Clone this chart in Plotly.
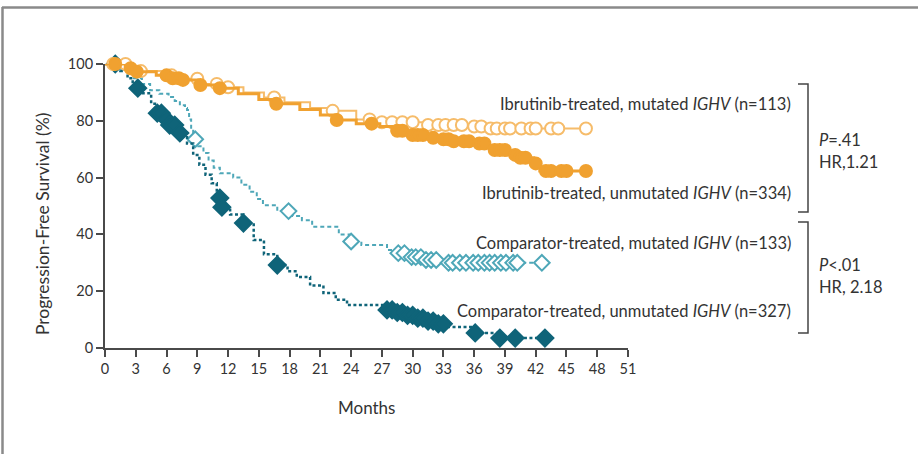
import plotly.graph_objects as go

# ---------------- data ----------------
X_TICKS = list(range(0, 52, 3))
Y_TICKS = [0, 20, 40, 60, 80, 100]

# Ibrutinib-treated, mutated IGHV (n=113)
IBR_MUT_T = [0, 2.2, 3.2, 5.5, 7.8, 9.5, 11.5, 13.5, 15.5, 17.5, 20, 22, 24.5, 27, 31, 35, 37.5, 47]
IBR_MUT_S = [100, 98.5, 97.5, 96, 94.8, 93, 91.8, 90, 88.2, 86.5, 84.5, 83.5, 80.5, 79.5, 78.5, 78, 77.3, 77.3]
IBR_MUT_CENS = [0.8, 2, 3.5, 6.5, 9, 10.9, 12, 16.5, 22.2, 25.8, 27, 28, 29, 30, 31.5,
                32.5, 33.2, 34, 34.8, 36, 36.7, 37.6, 38.2, 39, 39.5, 40.6, 41.5, 42,
                43.5, 44.2, 46.9]

# Ibrutinib-treated, unmutated IGHV (n=334)
IBR_UN_T = [0, 2, 3, 5, 6.6, 7.6, 9, 11, 13, 15, 16.7, 19, 21, 22.6, 24.5, 26.8, 28,
            29.8, 31.5, 32.7, 34, 36, 37.3, 37.9, 39.2, 40.2, 41.8, 42.4, 47]
IBR_UN_S = [100, 98.5, 97.3, 96, 95, 94.4, 92.6, 91.5, 89.5, 87.5, 86, 84, 82, 80.3,
            79, 78, 76.5, 75, 74, 73.5, 72.8, 72, 70.5, 69.7, 68, 67, 65, 62.3, 62.3]
IBR_UN_CENS = [1, 2.5, 3.1, 6, 6.6, 7.2, 7.6, 9.3, 11.2, 16.7, 22.6, 26, 28.5, 29, 30,
               30.5, 31, 32, 33, 33.5, 34, 35, 35.5, 36.5, 37, 38, 38.5, 39, 40, 40.5,
               41, 42, 43, 43.5, 44.5, 45, 46.9]

# Comparator-treated, mutated IGHV (n=133)
CMP_MUT_T = [0, 1.5, 2.8, 3.6, 4.4, 5.3, 6.2, 6.8, 7.3, 7.8, 8.0, 8.2, 8.4, 8.6, 9.1,
             9.6, 10.1, 10.6, 11.2, 12.5, 13.3, 14.1, 14.8, 15.4, 16.8, 18.3, 19.2,
             20.2, 22.8, 23.8, 25, 27.5, 28.6, 29.8, 31, 33.4, 42.6]
CMP_MUT_S = [100, 98, 95, 93, 90.8, 89.5, 88.4, 87, 85.5, 84.5, 83.8, 80.5, 77, 73.5,
             71, 68.7, 66, 63.5, 61.5, 60, 57.5, 55, 52.5, 50.3, 48.2, 46.5, 45, 42.7,
             40, 37.5, 36.3, 34.5, 33.4, 32, 31, 30, 30]
CMP_MUT_CENS = [8.8, 17.9, 24, 28.6, 29.2, 29.9, 30.3, 30.8, 31.3, 31.8, 32.3, 33.5,
                33.9, 34.6, 35.2, 35.9, 36.4, 37, 37.5, 38, 38.6, 39.1, 39.8, 40.2, 42.6]

# Comparator-treated, unmutated IGHV (n=327)
CMP_UN_T = [0, 1.5, 2.2, 2.7, 3.2, 3.7, 4.5, 5.1, 5.7, 6.3, 7.3, 8, 8.6, 9.2, 9.8, 10.4,
            10.9, 11.2, 11.4, 12.2, 13.5, 14.5, 15.5, 16.8, 17.8, 18.7, 20, 21.3, 22.5,
            23.6, 27.5, 28.5, 29.5, 30.5, 31.5, 32.5, 33.5, 36.1, 38.5, 42.9]
CMP_UN_S = [100, 97.5, 95, 93, 91.5, 89.7, 86, 82.7, 80.5, 78.5, 75.7, 72, 68, 64.5, 61,
            58, 55, 52.8, 49.6, 47, 44, 38, 33, 29.2, 27, 25, 22, 19.4, 17, 15.1, 13.4,
            12.5, 11.5, 10.5, 9.5, 8.5, 7.4, 5.3, 3.5, 3.5]
CMP_UN_CENS = [1, 3.2, 5.1, 5.5, 6, 6.3, 6.8, 7.3, 11.2, 11.4, 13.5, 16.8, 27.5, 28,
               28.5, 29, 29.5, 30, 30.5, 31, 31.5, 32, 32.5, 33, 36.1, 38.5, 40, 42.9]

LABELS = ["Ibrutinib-treated, mutated <i>IGHV</i> (n=113)",
          "Ibrutinib-treated, unmutated <i>IGHV</i> (n=334)",
          "Comparator-treated, mutated <i>IGHV</i> (n=133)",
          "Comparator-treated, unmutated <i>IGHV</i> (n=327)"]
STATS = [["<i>P</i>=.41", "HR,1.21"], ["<i>P</i><.01", "HR, 2.18"]]

# ---------------- styling ----------------
FONT = "Lato"
TXT = "#333333"
AX = "#4a4a4a"
ORANGE = "#F0A130"
ORANGE_L = "#F6BC6A"
TEAL_D = "#0F6479"
TEAL_L = "#4EA7B8"

W_FIG, H_FIG = 918, 454
L, R, T, B = 105, 290, 64, 106
PW, PH = W_FIG - L - R, H_FIG - T - B


def px(x):
    return (x - L) / PW


def py(y):
    return (H_FIG - B - y) / PH


def step_at(ts, ss, t):
    v = ss[0]
    for ti, si in zip(ts, ss):
        if ti <= t:
            v = si
    return v


fig = go.Figure()

series = [
    (CMP_MUT_T, CMP_MUT_S, CMP_MUT_CENS, TEAL_L, "4px,3px", 2, "diamond", "white", TEAL_L, 12),
    (CMP_UN_T, CMP_UN_S, CMP_UN_CENS, TEAL_D, "3px,2.5px", 2.5, "diamond", TEAL_D, TEAL_D, 13),
    (IBR_MUT_T, IBR_MUT_S, IBR_MUT_CENS, ORANGE_L, "solid", 2, "circle", "white", ORANGE_L, 12),
    (IBR_UN_T, IBR_UN_S, IBR_UN_CENS, ORANGE, "solid", 3, "circle", ORANGE, ORANGE, 12),
]

for ts, ss, cens, col, dash, lw, sym, fill, lc, ms in series:
    fig.add_trace(go.Scatter(x=ts, y=ss, mode="lines", line_shape="hv",
                             line=dict(color=col, width=lw, dash=dash),
                             cliponaxis=False, showlegend=False, hoverinfo="skip"))
    fig.add_trace(go.Scatter(x=cens, y=[step_at(ts, ss, c) for c in cens], mode="markers",
                             marker=dict(symbol=sym, size=ms, color=fill,
                                         line=dict(color=lc, width=2)),
                             cliponaxis=False, showlegend=False))

fig.update_layout(
    width=W_FIG, height=H_FIG,
    margin=dict(l=L, r=R, t=T, b=B),
    paper_bgcolor="white", plot_bgcolor="white",
    font=dict(family=FONT, color=TXT, size=14),
    xaxis=dict(range=[0, 51], tickvals=X_TICKS, showline=True, linecolor=AX, linewidth=2,
               ticks="outside", ticklen=7, tickwidth=1.5, tickcolor=AX, showgrid=False,
               zeroline=False, tickfont=dict(size=14.5, color=TXT)),
    yaxis=dict(range=[0, 100], tickvals=Y_TICKS, showline=True, linecolor=AX, linewidth=2,
               ticks="outside", ticklen=7, tickwidth=1.5, tickcolor=AX, showgrid=False,
               zeroline=False, tickfont=dict(size=14.5, color=TXT)),
)

ann = []
ann.append(dict(text="Progression-Free Survival (%)", x=px(42), y=py(224), textangle=-90,
                font=dict(size=17.5, color=TXT)))
ann.append(dict(text="Months", x=px(366), y=py(407), font=dict(size=17, color=TXT)))
for lab, yy in zip(LABELS, [104, 193, 243, 311]):
    ann.append(dict(text=lab, x=px(793), y=py(yy), xanchor="right",
                    font=dict(size=16.5, color=TXT)))
for (p, hr), (y1, y2) in zip(STATS, [(140, 162), (265, 287)]):
    ann.append(dict(text=p, x=px(817), y=py(y1), xanchor="left", font=dict(size=16.5, color=TXT)))
    ann.append(dict(text=hr, x=px(817), y=py(y2), xanchor="left", font=dict(size=16.5, color=TXT)))
for a in ann:
    a.update(xref="paper", yref="paper", showarrow=False)
    a.setdefault("xanchor", "center")
    a.setdefault("yanchor", "middle")
fig.update_layout(annotations=ann)

shapes = []
for y0, y1 in [(84, 212), (222, 333)]:
    shapes.append(dict(type="path",
                       path=f"M {px(798)} {py(y0)} L {px(808)} {py(y0)} L {px(808)} {py(y1)} L {px(798)} {py(y1)}",
                       line=dict(color="#444444", width=1.5)))
# outer frame (top and left edges visible)
shapes.append(dict(type="line", x0=px(2), x1=px(918), y0=py(7.5), y1=py(7.5),
                   line=dict(color="#8a8a8a", width=2.5)))
shapes.append(dict(type="line", x0=px(2.5), x1=px(2.5), y0=py(7), y1=py(454),
                   line=dict(color="#8a8a8a", width=2.5)))
for s in shapes:
    s.update(xref="paper", yref="paper")
fig.update_layout(shapes=shapes)

fig.write_html("out.html", config={"displayModeBar": False})

# remove the default page margin so the figure sits at the window origin
with open("out.html", encoding="utf-8") as f:
    html = f.read()
html = html.replace("<body>", '<body style="margin:0;padding:0;overflow:hidden;">', 1)
with open("out.html", "w", encoding="utf-8") as f:
    f.write(html)
